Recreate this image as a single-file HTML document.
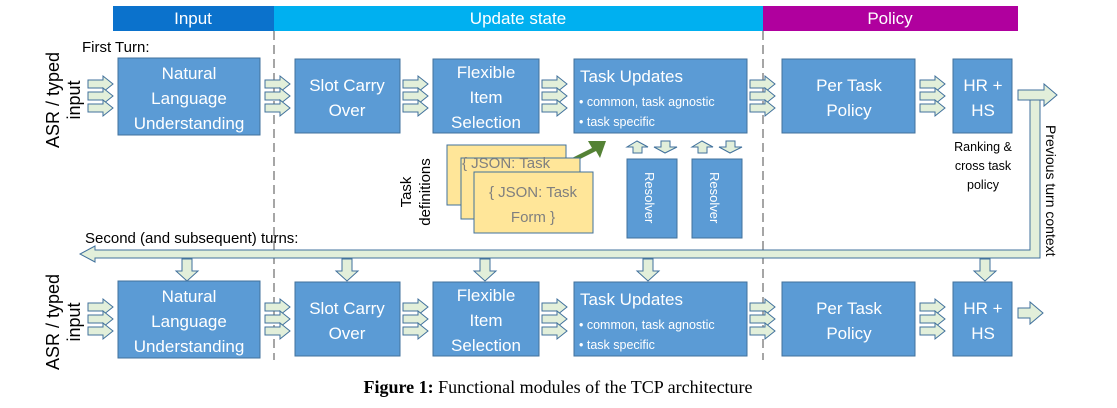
<!DOCTYPE html>
<html><head><meta charset="utf-8"><style>
html,body{margin:0;padding:0;background:#fff;}
svg{display:block;}
text{font-family:"Liberation Sans",sans-serif;}
.w{fill:#fff;font-size:17px;text-anchor:middle;}
</style></head><body>
<svg width="1117" height="408" viewBox="0 0 1117 408" xmlns="http://www.w3.org/2000/svg">
<defs>
<g id="a"><path d="M0,-4 H15 V-8 L25,0 L15,8 V4 H0 Z" fill="#e2efda" stroke="#41719c" stroke-width="1"/></g>
<g id="t"><use href="#a" y="-12"/><use href="#a" y="0"/><use href="#a" y="12"/></g>
<g id="d"><path d="M-5,0 H5 V12 H11 L0,22 L-11,12 H-5 Z" fill="#e2efda" stroke="#41719c" stroke-width="1"/></g>
</defs>
<rect x="113" y="6" width="161" height="25" fill="#0b72cc"/>
<rect x="274" y="6" width="489" height="25" fill="#00b0f0"/>
<rect x="763" y="6" width="255" height="25" fill="#b0009e"/>
<text x="193" y="24" class="w" font-size="15">Input</text>
<text x="518" y="24" class="w" font-size="15">Update state</text>
<text x="890" y="24" class="w" font-size="15">Policy</text>
<line x1="274" y1="31" x2="274" y2="360" stroke="#888" stroke-width="1.5" stroke-dasharray="9,5"/>
<line x1="763" y1="31" x2="763" y2="360" stroke="#888" stroke-width="1.5" stroke-dasharray="9,5"/>
<text x="82" y="52" font-size="15">First Turn:</text>
<text x="85" y="243" font-size="15">Second (and subsequent) turns:</text>
<text transform="translate(68,100) rotate(-90)" font-size="18" text-anchor="middle"><tspan x="0" y="-9">ASR / typed</tspan><tspan x="0" y="12">input</tspan></text>
<text transform="translate(68,322) rotate(-90)" font-size="18" text-anchor="middle"><tspan x="0" y="-9">ASR / typed</tspan><tspan x="0" y="12">input</tspan></text>
<path d="M1030,100 H1040 V258 H95 V262 L80,254 L95,246 V250 H1030 Z" fill="#e2efda" stroke="#41719c" stroke-width="1"/>
<path d="M1018,90 H1044 V84 L1057,95 L1044,106 V100 H1018 Z" fill="#e2efda" stroke="#41719c" stroke-width="1"/>
<use href="#d" x="187" y="259"/><use href="#d" x="347" y="259"/><use href="#d" x="485" y="259"/><use href="#d" x="648" y="259"/><use href="#d" x="985" y="259"/>
<text transform="translate(1046,125) rotate(90)" font-size="14">Previous turn context</text>
<g id="row">
<rect x="118" y="58" width="142" height="77" fill="#5b9bd5" stroke="#41719c"/>
<text class="w"><tspan x="189" y="79">Natural</tspan><tspan x="189" y="104">Language</tspan><tspan x="189" y="129">Understanding</tspan></text>
<rect x="295" y="59" width="105" height="74" fill="#5b9bd5" stroke="#41719c"/>
<text class="w"><tspan x="347" y="91">Slot Carry</tspan><tspan x="347" y="116">Over</tspan></text>
<rect x="433" y="59" width="106" height="74" fill="#5b9bd5" stroke="#41719c"/>
<text class="w"><tspan x="486" y="78">Flexible</tspan><tspan x="486" y="103">Item</tspan><tspan x="486" y="128">Selection</tspan></text>
<rect x="574" y="59" width="173" height="74" fill="#5b9bd5" stroke="#41719c"/>
<text x="580" y="82" fill="#fff" font-size="17">Task Updates</text>
<text x="579" y="106" fill="#fff" font-size="12.5">• common, task agnostic</text>
<text x="579" y="126" fill="#fff" font-size="12.5">• task specific</text>
<rect x="782" y="59" width="133" height="74" fill="#5b9bd5" stroke="#41719c"/>
<text class="w"><tspan x="849" y="91">Per Task</tspan><tspan x="849" y="116">Policy</tspan></text>
<rect x="953" y="59" width="59" height="74" fill="#5b9bd5" stroke="#41719c"/>
<text class="w"><tspan x="983" y="91">HR +</tspan><tspan x="983" y="116">HS</tspan></text>
<use href="#t" x="88" y="96"/><use href="#t" x="265" y="96"/><use href="#t" x="403" y="96"/><use href="#t" x="542" y="96"/><use href="#t" x="750" y="96"/><use href="#t" x="920" y="96"/>
</g>
<g transform="translate(0,223)"><use href="#row"/></g>
<path d="M1018,308 H1030 V302 L1043,313 L1030,324 V318 H1018 Z" fill="#e2efda" stroke="#41719c" stroke-width="1"/>
<text x="983" y="151" text-anchor="middle" font-size="12.5"><tspan x="983">Ranking &amp;</tspan><tspan x="983" dy="19">cross task</tspan><tspan x="983" dy="19">policy</tspan></text>
<path d="M572,158 L592,148 L588,141 L606,141 L600,158 L596,151 L576,161 Z" fill="#548235"/>
<rect x="447" y="145" width="119" height="60" fill="#ffe699" stroke="#41719c"/>
<rect x="461" y="158" width="119" height="61" fill="#ffe699" stroke="#41719c"/>
<text x="462" y="168" fill="#7f7f7f" font-size="15">{ JSON: Task</text>
<text x="474" y="183" fill="#7f7f7f" font-size="15">{ JSON: Task</text>
<rect x="474" y="172" width="119" height="61" fill="#ffe699" stroke="#41719c"/>
<text x="533" y="197" text-anchor="middle" fill="#7f7f7f" font-size="15">{ JSON: Task</text>
<text x="533" y="222" text-anchor="middle" fill="#7f7f7f" font-size="15">Form }</text>
<text transform="translate(415,192) rotate(-90)" text-anchor="middle" font-size="15"><tspan x="0" y="-4">Task</tspan><tspan x="0" y="15">definitions</tspan></text>
<rect x="627" y="159" width="50" height="79" fill="#5b9bd5" stroke="#41719c"/>
<rect x="692" y="159" width="50" height="79" fill="#5b9bd5" stroke="#41719c"/>
<text transform="translate(645,172) rotate(90)" fill="#fff" font-size="13">Resolver</text>
<text transform="translate(710,172) rotate(90)" fill="#fff" font-size="13">Resolver</text>
<g fill="#e2efda" stroke="#41719c" stroke-width="1">
<path d="M633,153 V147 H627 L637,141 L648,147 H642 V153 Z"/>
<path d="M661,141 V147 H654 L665,153 L677,147 H670 V141 Z"/>
<path d="M698,153 V147 H692 L702,141 L713,147 H707 V153 Z"/>
<path d="M726,141 V147 H719 L730,153 L742,147 H735 V141 Z"/>
</g>
<text x="558" y="393" text-anchor="middle" font-size="18" style="font-family:'Liberation Serif',serif"><tspan font-weight="bold">Figure 1:</tspan> Functional modules of the TCP architecture</text>
</svg>
</body></html>
